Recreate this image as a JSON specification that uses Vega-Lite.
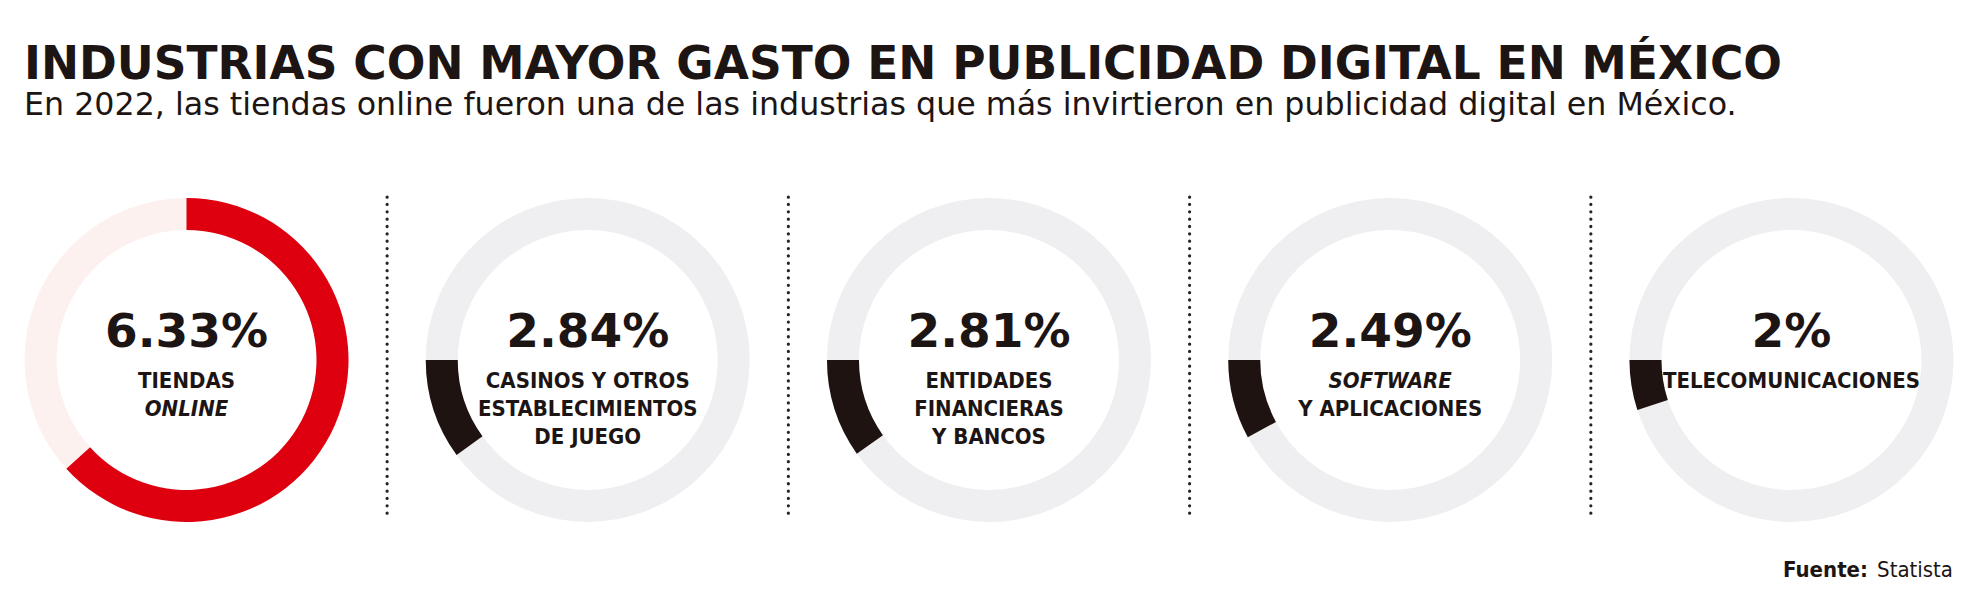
{
  "$schema": "https://vega.github.io/schema/vega-lite/v6.json",
  "width": 1964,
  "height": 456,
  "autosize": "none",
  "padding": {"top": 140, "left": 0, "right": 0, "bottom": 0},
  "background": "white",
  "title": {
    "text": "INDUSTRIAS CON MAYOR GASTO EN PUBLICIDAD DIGITAL EN MÉXICO",
    "subtitle": "En 2022, las tiendas online fueron una de las industrias que más invirtieron en publicidad digital en México.",
    "anchor": "start",
    "frame": "group",
    "dx": 24,
    "offset": 18,
    "font": "DejaVu Sans",
    "fontWeight": "bold",
    "fontSize": 45.5,
    "color": "#1c1513",
    "subtitleFont": "DejaVu Sans",
    "subtitleFontSize": 31.7,
    "subtitleColor": "#1c1513",
    "subtitlePadding": 2
  },
  "datasets": {
    "industrias": [
      {"i": 0, "pct": 6.33, "num": "6.33%"},
      {"i": 1, "pct": 2.84, "num": "2.84%"},
      {"i": 2, "pct": 2.81, "num": "2.81%"},
      {"i": 3, "pct": 2.49, "num": "2.49%"},
      {"i": 4, "pct": 2.0, "num": "2%"}
    ],
    "lineas": [
      {"i": 0, "line": 1, "text": "TIENDAS", "italic": false},
      {"i": 0, "line": 2, "text": "ONLINE", "italic": true},
      {"i": 1, "line": 1, "text": "CASINOS Y OTROS", "italic": false},
      {"i": 1, "line": 2, "text": "ESTABLECIMIENTOS", "italic": false},
      {"i": 1, "line": 3, "text": "DE JUEGO", "italic": false},
      {"i": 2, "line": 1, "text": "ENTIDADES", "italic": false},
      {"i": 2, "line": 2, "text": "FINANCIERAS", "italic": false},
      {"i": 2, "line": 3, "text": "Y BANCOS", "italic": false},
      {"i": 3, "line": 1, "text": "SOFTWARE", "italic": true},
      {"i": 3, "line": 2, "text": "Y APLICACIONES", "italic": false},
      {"i": 4, "line": 1, "text": "TELECOMUNICACIONES", "italic": false}
    ],
    "separadores": [{"pos": 0.5}, {"pos": 1.5}, {"pos": 2.5}, {"pos": 3.5}]
  },
  "layer": [
    {
      "data": {"name": "industrias"},
      "mark": {"type": "point", "shape": "circle", "filled": false, "size": 85264, "strokeWidth": 32, "opacity": 1},
      "encoding": {
        "x": {"field": "i", "type": "quantitative", "scale": {"domain": [-0.4648, 4.43], "nice": false, "zero": false}, "axis": null},
        "y": {"datum": 0, "type": "quantitative", "scale": {"domain": [-7.857, 8.4286], "reverse": true, "nice": false, "zero": false}, "axis": null},
        "stroke": {
          "condition": {"test": "datum.i == 0", "value": "#fcf1ee"},
          "value": "#efeff1"
        }
      }
    },
    {
      "data": {"name": "industrias"},
      "transform": [{"filter": "datum.i == 0"}],
      "mark": {"type": "arc", "radius": 162, "radius2": 130, "color": "#df000f"},
      "encoding": {
        "x": {"field": "i", "type": "quantitative"},
        "y": {"datum": 0, "type": "quantitative"},
        "theta": {"field": "pct", "type": "quantitative", "scale": {"domain": [0, 10], "range": [0, 6.2832]}}
      }
    },
    {
      "data": {"name": "industrias"},
      "transform": [{"filter": "datum.i == 1"}],
      "mark": {"type": "arc", "radius": 162, "radius2": 130, "color": "#1e1311"},
      "encoding": {
        "x": {"field": "i", "type": "quantitative"},
        "y": {"datum": 0, "type": "quantitative"},
        "theta": {"field": "pct", "type": "quantitative", "scale": {"domain": [1.16, 17.98], "range": [4.7124, -1.5708], "clamp": true, "zero": false}}
      }
    },
    {
      "data": {"name": "industrias"},
      "transform": [{"filter": "datum.i == 2"}],
      "mark": {"type": "arc", "radius": 162, "radius2": 130, "color": "#1e1311"},
      "encoding": {
        "x": {"field": "i", "type": "quantitative"},
        "y": {"datum": 0, "type": "quantitative"},
        "theta": {"field": "pct", "type": "quantitative", "scale": {"domain": [1.16, 17.98], "range": [4.7124, -1.5708], "clamp": true, "zero": false}}
      }
    },
    {
      "data": {"name": "industrias"},
      "transform": [{"filter": "datum.i == 3"}],
      "mark": {"type": "arc", "radius": 162, "radius2": 130, "color": "#1e1311"},
      "encoding": {
        "x": {"field": "i", "type": "quantitative"},
        "y": {"datum": 0, "type": "quantitative"},
        "theta": {"field": "pct", "type": "quantitative", "scale": {"domain": [1.16, 17.98], "range": [4.7124, -1.5708], "clamp": true, "zero": false}}
      }
    },
    {
      "data": {"name": "industrias"},
      "transform": [{"filter": "datum.i == 4"}],
      "mark": {"type": "arc", "radius": 162, "radius2": 130, "color": "#1e1311"},
      "encoding": {
        "x": {"field": "i", "type": "quantitative"},
        "y": {"datum": 0, "type": "quantitative"},
        "theta": {"field": "pct", "type": "quantitative", "scale": {"domain": [1.16, 17.98], "range": [4.7124, -1.5708], "clamp": true, "zero": false}}
      }
    },
    {
      "data": {"name": "separadores"},
      "mark": {"type": "rule", "color": "#2a2220", "strokeWidth": 3.2, "strokeDash": [0.1, 7.25], "strokeCap": "round"},
      "encoding": {
        "x": {"field": "pos", "type": "quantitative"},
        "y": {"datum": -5.82, "type": "quantitative"},
        "y2": {"datum": 5.71}
      }
    },
    {
      "data": {"name": "industrias"},
      "mark": {"type": "text", "font": "DejaVu Sans", "fontWeight": "bold", "fontSize": 47, "color": "#1c1513", "baseline": "alphabetic", "align": "center", "dy": -13},
      "encoding": {
        "x": {"field": "i", "type": "quantitative"},
        "y": {"datum": 0, "type": "quantitative"},
        "text": {"field": "num"}
      }
    },
    {
      "data": {"name": "lineas"},
      "transform": [{"filter": "!datum.italic"}],
      "mark": {"type": "text", "font": "DejaVu Sans Condensed", "fontWeight": "bold", "fontSize": 22, "color": "#1c1513", "baseline": "alphabetic", "align": "center"},
      "encoding": {
        "x": {"field": "i", "type": "quantitative"},
        "y": {"field": "line", "type": "quantitative"},
        "text": {"field": "text"}
      }
    },
    {
      "data": {"name": "lineas"},
      "transform": [{"filter": "datum.italic"}],
      "mark": {"type": "text", "font": "DejaVu Sans Condensed", "fontWeight": "bold", "fontStyle": "italic", "fontSize": 22, "color": "#1c1513", "baseline": "alphabetic", "align": "center"},
      "encoding": {
        "x": {"field": "i", "type": "quantitative"},
        "y": {"field": "line", "type": "quantitative"},
        "text": {"field": "text"}
      }
    },
    {
      "data": {"values": [{"fuente": "Fuente:", "origen": "Statista"}]},
      "mark": {"type": "text", "font": "DejaVu Sans Condensed", "fontWeight": "bold", "fontSize": 22, "color": "#1c1513", "baseline": "alphabetic", "align": "right"},
      "encoding": {
        "x": {"datum": 4.1906, "type": "quantitative"},
        "y": {"datum": 7.75, "type": "quantitative"},
        "text": {"field": "fuente"}
      }
    },
    {
      "data": {"values": [{"fuente": "Fuente:", "origen": "Statista"}]},
      "mark": {"type": "text", "font": "DejaVu Sans Condensed", "fontSize": 22, "color": "#1c1513", "baseline": "alphabetic", "align": "right"},
      "encoding": {
        "x": {"datum": 4.4025, "type": "quantitative"},
        "y": {"datum": 7.75, "type": "quantitative"},
        "text": {"field": "origen"}
      }
    }
  ],
  "resolve": {"scale": {"theta": "independent"}},
  "config": {"view": {"stroke": null}}
}
